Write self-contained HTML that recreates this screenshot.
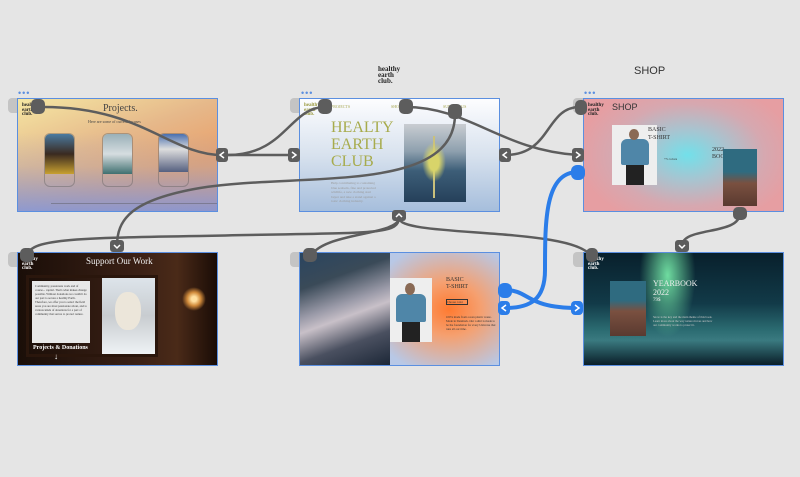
<!DOCTYPE html>
<html><head><meta charset="utf-8"><style>
*{margin:0;padding:0;box-sizing:border-box}
body{width:800px;height:477px;background:#e5e5e5;position:relative;overflow:hidden;font-family:"Liberation Serif",serif}
.f{position:absolute;width:201px;height:114px;border:1.5px solid #5b8fe0;overflow:hidden}
.tab{position:absolute;width:14px;height:15px;background:#c4c4c4;border-radius:4px 0 0 4px}
.dots{position:absolute;color:#5b8fe0;font-size:9px;letter-spacing:1px;font-family:"Liberation Sans",sans-serif;line-height:6px}
.logo{position:absolute;font-size:5px;line-height:4.5px;font-weight:bold;color:#222}
.a{position:absolute}
</style></head><body>
<div class="a" style="left:378px;top:66px;font-size:7px;line-height:6px;font-weight:bold;color:#222">healthy<br>earth<br>club.</div>
<div class="a" style="left:634px;top:65px;font-size:11px;font-family:'Liberation Sans',sans-serif;color:#333">SHOP</div>

<div class="dots" style="left:18px;top:90px">•••</div>
<div class="dots" style="left:301px;top:90px">•••</div>
<div class="dots" style="left:584px;top:90px">•••</div>
<div class="tab" style="left:8px;top:98px"></div>
<div class="tab" style="left:290px;top:98px"></div>
<div class="tab" style="left:573px;top:98px"></div>
<div class="tab" style="left:8px;top:252px"></div>
<div class="tab" style="left:290px;top:252px"></div>
<div class="tab" style="left:573px;top:252px"></div>

<!-- F1 -->
<div class="f" style="left:17px;top:98px;background:linear-gradient(160deg,#f5e7a3 0%,#e6b88a 40%,#e9a06a 70%,#e79766 100%)">
 <div class="a" style="inset:0;background:linear-gradient(0deg,rgba(120,150,230,.8) 0%,rgba(160,170,200,.3) 40%,rgba(0,0,0,0) 70%);"></div>
 <div class="logo" style="left:4px;top:5px">healthy<br>earth<br>club.</div>
 <div class="a" style="left:85px;top:4px;font-size:10px;color:#444">Projects.</div>
 <div class="a" style="left:70px;top:20px;font-size:4px;color:#444">Here are some of current focuses</div>
 <div class="a" style="left:26px;top:34px;width:31px;height:54px;border:1px solid rgba(90,90,90,.4);border-radius:6px"><div style="height:40px;background:linear-gradient(#4a7aa0,#3a2a20 50%,#c8a030);border-radius:5px 5px 0 0"></div></div>
 <div class="a" style="left:84px;top:34px;width:31px;height:54px;border:1px solid rgba(90,90,90,.4);border-radius:6px"><div style="height:40px;background:linear-gradient(#9ab0b8,#d6dde0 50%,#3f7070);border-radius:5px 5px 0 0"></div></div>
 <div class="a" style="left:140px;top:34px;width:31px;height:54px;border:1px solid rgba(90,90,90,.4);border-radius:6px"><div style="height:38px;background:linear-gradient(#4a70b0,#ddd 40%,#556080);border-radius:5px 5px 0 0"></div></div>
 <div class="a" style="left:33px;top:104px;width:166px;height:1px;background:rgba(80,80,80,.4)"></div>
</div>
<!-- F2 -->
<div class="f" style="left:299px;top:98px;background:linear-gradient(180deg,#fdfdff 0%,#d8e2ee 50%,#a6bedc 100%)">
 <div class="logo" style="left:4px;top:5px;color:#9a9a40">healthy<br>earth<br>club.</div>
 <div class="a" style="left:31px;top:5px;font-size:4px;color:#a6a650">PROJECTS</div>
 <div class="a" style="left:91px;top:5px;font-size:4px;color:#a6a650">SHOP</div>
 <div class="a" style="left:143px;top:5px;font-size:4px;color:#a6a650">SUPPORT US</div>
 <div class="a" style="left:31px;top:20px;font-size:16px;line-height:17px;color:#a7ab4c">HEALTY<br>EARTH<br>CLUB</div>
 <div class="a" style="left:31px;top:82px;width:46px;font-size:3.5px;line-height:4.5px;color:#999">Help contributing to containing blue seabeds, fine and protected wildlife, a new clothing start buyer and take a stand against a toxic clothing industry.</div>
 <div class="a" style="left:104px;top:25px;width:62px;height:78px;background:linear-gradient(180deg,#c9cdd2 0%,#8ea0ae 35%,#3d5e78 60%,#25405a 100%)">
  <div class="a" style="left:29px;top:12px;width:2px;height:62px;background:#c9c07c"></div>
  <div class="a" style="left:18px;top:18px;width:24px;height:40px;border-radius:50%;background:radial-gradient(#d8d46a 30%,rgba(200,200,100,0) 70%)"></div>
 </div>
</div>
<!-- F3 -->
<div class="f" style="left:583px;top:98px;background:radial-gradient(ellipse 55% 65% at 52% 50%,#72e0ea 0%,#a8c4d0 35%,#d6a8b0 70%,#e69ea2 100%)">
 <div class="logo" style="left:4px;top:5px">healthy<br>earth<br>club.</div>
 <div class="a" style="left:28px;top:3px;font-size:9px;font-family:'Liberation Sans',sans-serif;color:#333">SHOP</div>
 <div class="a" style="left:28px;top:26px;width:45px;height:60px;background:#eee"><div class="a" style="left:9px;top:14px;width:28px;height:26px;background:#4f86a8;border-radius:6px 6px 2px 2px"></div><div class="a" style="left:17px;top:4px;width:10px;height:11px;background:#8a6a55;border-radius:50%"></div><div class="a" style="left:14px;top:40px;width:18px;height:20px;background:#222"></div></div>
 <div class="a" style="left:64px;top:27px;font-size:6px;line-height:8px;color:#333">BASIC<br>T-SHIRT</div>
 <div class="a" style="left:80px;top:58px;font-size:3.5px;color:#333">+5 colors</div>
 <div class="a" style="left:128px;top:48px;font-size:6px;line-height:7px;color:#333">2022<br>BOOK</div>
 <div class="a" style="left:139px;top:50px;width:34px;height:57px;background:linear-gradient(#2f6b80 0%,#2f6b80 40%,#7a5040 60%,#5a3a30 100%)"></div>
</div>
<!-- F4 -->
<div class="f" style="left:17px;top:252px;background:linear-gradient(90deg,#1a0e08,#3a2015 60%,#4a2a18 80%,#1a0c06)">
 <div class="logo" style="left:4px;top:5px;color:#fff">healthy<br>earth<br>club.</div>
 <div class="a" style="left:68px;top:3px;font-size:9px;color:#eee">Support Our Work</div>
 <div class="a" style="left:8px;top:22px;width:132px;height:82px;border:3px solid #2a160c"></div>
 <div class="a" style="left:14px;top:28px;width:58px;height:62px;background:#e8e8e8;font-size:3px;line-height:4px;color:#333;padding:3px;overflow:hidden">Community, passionate work and of course... capital. That's what makes change possible. Without donations we couldn't do our part to secure a healthy Earth. Therefore, we offer you to select the field areas you are most passionate about, and to various kinds of donations for a part of community that serves to protect nature.</div>
 <div class="a" style="left:84px;top:25px;width:53px;height:76px;background:linear-gradient(#dde4ea,#c8ccd0 50%,#eef2f5)"><div class="a" style="left:13px;top:14px;width:26px;height:38px;border-radius:45%;background:#ece6da"></div></div>
 <div class="a" style="left:164px;top:34px;width:24px;height:24px;border-radius:50%;background:radial-gradient(#ffe0a0 15%,#d08a3a 40%,rgba(80,40,10,0) 70%)"></div>
 <div class="a" style="left:15px;top:92px;font-size:6px;font-weight:bold;color:#fff">Projects &amp; Donations</div>
 <div class="a" style="left:36px;top:99px;font-size:8px;color:#fff">↓</div>
</div>
<!-- F5 -->
<div class="f" style="left:299px;top:252px;background:radial-gradient(ellipse 40% 60% at 75% 50%,#ff7a30 0%,#f5a070 40%,#b8c8e6 100%)">
 <div class="a" style="left:0;top:0;width:90px;height:114px;background:linear-gradient(160deg,#2a4560 0%,#3a4a58 25%,#9a9aa8 45%,#c8c0c8 55%,#4a5060 75%,#1a2535 100%)"></div>
 <div class="a" style="left:90px;top:25px;width:42px;height:64px;background:#eee"><div class="a" style="left:6px;top:16px;width:30px;height:28px;background:#4f86a8;border-radius:6px 6px 2px 2px"></div><div class="a" style="left:15px;top:5px;width:10px;height:12px;background:#8a6a55;border-radius:50%"></div><div class="a" style="left:12px;top:44px;width:18px;height:20px;background:#222"></div></div>
 <div class="a" style="left:146px;top:24px;font-size:6px;line-height:7px;color:#333">BASIC<br>T-SHIRT</div>
 <div class="a" style="left:146px;top:46px;width:22px;height:6px;border:0.5px solid #333;font-size:3px;color:#333">Choose color</div>
 <div class="a" style="left:146px;top:62px;width:50px;font-size:3px;line-height:4px;color:#333">100% made from ocean plastic waste. Made in Denmark. Our t-shirt is made to be the foundation for every Universe that runs all our time.</div>
</div>
<!-- F6 -->
<div class="f" style="left:583px;top:252px;background:radial-gradient(ellipse 14% 55% at 42% 20%,#6fdca0 0%,rgba(60,160,140,0) 100%),linear-gradient(180deg,#08202c 0%,#123a48 45%,#2a6a70 68%,#3a7a80 78%,#0a1e28 100%)">
 <div class="logo" style="left:4px;top:5px;color:#fff">healthy<br>earth<br>club.</div>
 <div class="a" style="left:26px;top:28px;width:36px;height:55px;background:linear-gradient(#2f6b80 0%,#2f6b80 35%,#7a5040 55%,#5a3a30 100%)"></div>
 <div class="a" style="left:69px;top:26px;font-size:8px;line-height:9px;color:#eee">YEARBOOK<br>2022</div>
 <div class="a" style="left:69px;top:45px;font-size:5px;color:#eee">79$</div>
 <div class="a" style="left:69px;top:62px;width:62px;font-size:3px;line-height:4px;color:#ccc">Snow is the key and the main theme of this book. Learn more about the way nature moves and how our community works to protect it.</div>
</div>

<svg class="a" style="left:0;top:0" width="800" height="477" viewBox="0 0 800 477">
<g fill="none" stroke="#5d5d5d" stroke-width="2.5">
<path d="M38,107 C140,105 170,155 222,155 L294,155"/>
<path d="M325,107 C290,107 285,155 228,155"/>
<path d="M405,107 C470,107 500,150 578,155"/>
<path d="M580,107 C545,107 552,155 505,155"/>
<path d="M455,114 C455,195 300,172 200,188 C130,200 117,220 117,246"/>
<path d="M399,218 C398,236 370,232 200,236 C60,238 27,240 27,258"/>
<path d="M399,218 C398,236 320,232 310,258"/>
<path d="M399,218 C398,238 580,226 592,258"/>
<path d="M740,213 C740,236 682,226 682,246"/>
</g>
<g fill="none" stroke="#2b7de9" stroke-width="4">
<path d="M578,172 C545,172 545,220 545,270 C545,300 530,308 505,308"/>
<path d="M505,290 C530,290 525,308 578,308"/>
</g>
<g fill="#5d5d5d">
<rect x="31" y="99" width="14" height="15" rx="5"/>
<rect x="318" y="99" width="14" height="15" rx="5"/>
<rect x="399" y="99" width="14" height="15" rx="5"/>
<rect x="448" y="104" width="14" height="15" rx="5"/>
<rect x="575" y="100" width="12" height="15" rx="5"/>
<rect x="733" y="207" width="14" height="13" rx="5"/>
<rect x="20" y="248" width="14" height="14" rx="5"/>
<rect x="303" y="248" width="14" height="14" rx="5"/>
<rect x="586" y="248" width="12" height="14" rx="5"/>
<rect x="216" y="148" width="12" height="14" rx="3"/>
<rect x="288" y="148" width="12" height="14" rx="3"/>
<rect x="499" y="148" width="12" height="14" rx="3"/>
<rect x="572" y="148" width="12" height="14" rx="3"/>
<rect x="392" y="210" width="14" height="11" rx="3"/>
<rect x="110" y="240" width="14" height="12" rx="3"/>
<rect x="675" y="240" width="14" height="12" rx="3"/>
</g>
<g fill="#2b7de9">
<rect x="571" y="165" width="14" height="15" rx="6"/>
<rect x="498" y="283" width="14" height="15" rx="6"/>
<rect x="498" y="301" width="12" height="14" rx="4"/>
<rect x="571" y="301" width="12" height="14" rx="4"/>
</g>
<g fill="none" stroke="#fff" stroke-width="1.5">
<path d="M224,152 L220,155 L224,158"/><path d="M292,152 L296,155 L292,158"/>
<path d="M507,152 L503,155 L507,158"/><path d="M576,152 L580,155 L576,158"/>
<path d="M396,217 L399,214 L402,217"/><path d="M114,245 L117,248 L120,245"/>
<path d="M679,245 L682,248 L685,245"/>
<path d="M506,305 L502,308 L506,311"/><path d="M575,305 L579,308 L575,311"/>
</g>
</svg>
</body></html>
